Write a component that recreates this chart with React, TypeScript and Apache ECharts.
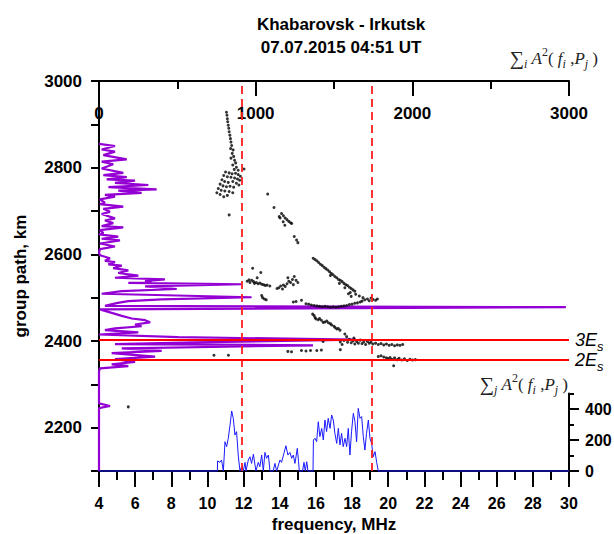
import React, { useEffect, useRef } from 'react';
import * as echarts from 'echarts';

const SANS = '"Liberation Sans", Arial, sans-serif';
const SERIF = '"Liberation Serif", "Times New Roman", serif';

// Ionogram echoes: [frequency MHz, group path km]
const echoes: [number, number][] = [
  // F-layer trace near 11 MHz
  [11.05, 2928], [11.08, 2921], [11.10, 2913], [11.12, 2906], [11.15, 2898], [11.18, 2891], [11.20, 2883],
  [11.24, 2875], [11.27, 2867], [11.30, 2859], [11.34, 2851], [11.28, 2844], [11.42, 2841], [11.37, 2833],
  [11.45, 2826], [11.30, 2822], [11.50, 2817], [11.56, 2811], [11.40, 2806], [11.60, 2801], [11.48, 2796],
  [11.70, 2794], [12.02, 2797],
  [11.00, 2790], [11.20, 2788], [11.36, 2786], [11.55, 2787], [11.70, 2784], [11.82, 2780], [10.90, 2782],
  [11.10, 2779], [11.30, 2778], [11.50, 2776], [11.66, 2774], [11.78, 2771], [10.80, 2772], [10.95, 2768],
  [11.15, 2766], [11.40, 2768], [11.60, 2764], [11.74, 2760], [10.70, 2762], [10.86, 2758], [11.05, 2756],
  [11.25, 2757], [11.45, 2755], [10.60, 2752], [10.76, 2748], [10.96, 2746], [11.20, 2745], [11.40, 2742],
  [10.52, 2742], [10.70, 2738], [10.90, 2733], [11.10, 2736], [11.20, 2691],
  // oblique trace descending with frequency
  [13.33, 2739], [13.68, 2708], [13.97, 2687], [14.02, 2684], [14.10, 2694], [14.20, 2689], [14.30, 2684],
  [14.40, 2680], [14.50, 2676], [14.60, 2673], [14.66, 2671], [14.19, 2675], [14.28, 2667], [14.80, 2641],
  [14.93, 2633], [15.00, 2627],
  [15.85, 2591], [15.95, 2588], [16.05, 2585], [16.15, 2581], [16.25, 2577], [16.35, 2574], [16.45, 2570],
  [16.55, 2567], [16.65, 2564], [16.75, 2560], [16.85, 2556], [16.95, 2553], [16.80, 2551], [17.05, 2549],
  [17.15, 2546], [17.25, 2542], [17.35, 2540], [17.45, 2537], [17.30, 2533], [17.55, 2533], [17.65, 2530],
  [17.75, 2528], [17.60, 2523], [17.85, 2524], [17.95, 2521], [18.05, 2518], [18.15, 2515], [17.90, 2512],
  [18.20, 2508], [17.95, 2503],
  // traces near 2530 km
  [12.20, 2538], [12.30, 2541], [12.35, 2535], [12.45, 2540], [12.55, 2537], [12.60, 2533], [12.70, 2535],
  [12.80, 2532], [12.90, 2534], [13.00, 2531], [13.10, 2530], [13.20, 2528], [13.30, 2529], [13.45, 2527],
  [12.50, 2568], [12.95, 2558], [12.75, 2546], [13.00, 2505], [13.05, 2500], [13.15, 2497], [13.25, 2495],
  [13.95, 2523], [14.05, 2527], [14.20, 2529], [14.30, 2526], [14.40, 2532], [14.50, 2538], [14.45, 2546],
  [14.60, 2535], [14.70, 2542], [14.80, 2549], [14.90, 2540], [15.00, 2535], [13.85, 2521], [14.15, 2520],
  [14.75, 2530],
  // 4Es trace
  [14.75, 2490], [14.90, 2491], [15.20, 2494], [15.45, 2486], [15.60, 2485], [15.75, 2483], [15.90, 2482],
  [16.05, 2481], [16.20, 2480], [16.35, 2479], [16.50, 2480], [16.65, 2479], [16.80, 2478], [16.95, 2479],
  [17.10, 2478], [17.25, 2479], [17.40, 2480], [17.55, 2481], [17.70, 2482], [17.85, 2484], [18.00, 2485],
  [18.15, 2487], [18.30, 2488], [18.45, 2490], [18.55, 2492], [18.70, 2495], [18.85, 2497], [18.95, 2493],
  [19.05, 2499], [19.15, 2496], [19.30, 2494], [19.40, 2497], [18.60, 2500], [18.40, 2504], [17.80, 2509],
  // short descending trace
  [15.82, 2462], [15.95, 2454], [16.13, 2449], [16.30, 2448], [16.50, 2444], [16.69, 2442], [16.87, 2437],
  [17.06, 2431], [17.24, 2429], [17.33, 2425], [15.90, 2459], [16.00, 2451], [16.20, 2452], [16.40, 2443],
  [16.60, 2446], [16.80, 2440], [17.00, 2434], [17.15, 2428],
  // 3Es trace
  [17.35, 2398], [17.45, 2392], [17.55, 2401], [17.70, 2410], [17.75, 2397], [17.85, 2404], [17.95, 2396],
  [18.05, 2400], [18.15, 2393], [18.25, 2399], [18.35, 2395], [18.45, 2402], [18.55, 2394], [18.65, 2398],
  [18.75, 2392], [18.85, 2399], [18.95, 2395], [19.05, 2397], [19.15, 2393], [19.30, 2395], [19.45, 2392],
  [19.60, 2394], [19.75, 2391], [19.90, 2393], [20.05, 2390], [20.20, 2392], [20.35, 2389], [20.50, 2391],
  [20.65, 2390], [20.80, 2392], [17.60, 2416], [18.10, 2407], [16.40, 2399],
  // 2Es trace
  [19.45, 2364], [19.60, 2366], [19.75, 2363], [19.90, 2361], [20.00, 2359], [20.10, 2362], [20.20, 2358],
  [20.35, 2361], [20.50, 2357], [20.60, 2360], [20.75, 2356], [20.90, 2359], [21.05, 2355], [21.20, 2358],
  [21.35, 2356], [21.50, 2357], [20.30, 2343],
  // isolated echoes
  [14.45, 2376], [14.65, 2375], [15.20, 2378], [15.45, 2377], [15.70, 2378], [16.05, 2378], [16.30, 2379],
  [17.35, 2380], [10.36, 2367], [11.16, 2367], [5.62, 2248],
];

// Sum over frequency of A^2 for each group path: [group path km, amplitude]
const pathProfile: [number, number][] = [
  [2855, 0], [2850, 102], [2842, 17], [2837, 102], [2829, 28], [2819, 177], [2814, 17], [2808, 91],
  [2798, 17], [2788, 155], [2783, 28], [2778, 177], [2773, 49], [2770, 230], [2765, 102], [2760, 315],
  [2755, 60], [2750, 368], [2747, 123], [2742, 272], [2737, 38], [2733, 102], [2727, 6], [2719, 38],
  [2716, 6], [2710, 155], [2705, 28], [2698, 70], [2693, 17], [2683, 102], [2678, 38], [2672, 91],
  [2665, 17], [2662, 155], [2656, 6], [2649, 28], [2646, 0], [2641, 123], [2636, 17], [2632, 134],
  [2625, 6], [2618, 102], [2612, 6], [2604, 0], [2598, 6], [2591, 70], [2585, 38], [2582, 102],
  [2577, 60], [2574, 145], [2568, 91], [2563, 187], [2557, 123], [2551, 251], [2546, 102], [2542, 421],
  [2538, 294], [2535, 336], [2534, 187], [2531, 910], [2526, 294], [2520, 496], [2515, 145], [2509, 17],
  [2501, 974], [2496, 400], [2492, 187], [2488, 120], [2481, 38], [2478, 2980], [2473, 6], [2465, 81],
  [2458, 145], [2452, 209], [2448, 294], [2443, 326], [2438, 230], [2434, 272], [2429, 102], [2425, 38],
  [2420, 251], [2415, 0], [2409, 506], [2403, 1640], [2397, 613], [2393, 102], [2390, 1366], [2383, 145],
  [2377, 400], [2372, 81], [2364, 358], [2358, 102], [2352, 230], [2346, 81], [2342, 187], [2337, 6],
  [2330, 0], [2256, 0], [2250, 70], [2245, 0], [2100, 0],
];

// Sum over group path of A^2 for each frequency: [frequency MHz, amplitude]
const freqProfile: [number, number][] = [
  [4, 0], [10.55, 0], [10.56, 65], [10.69, 56], [10.78, 71], [10.88, 0], [10.97, 189], [11.06, 157],
  [11.15, 210], [11.25, 297], [11.34, 387], [11.43, 340], [11.52, 232], [11.61, 254], [11.71, 92],
  [11.8, 0], [11.89, 28], [11.98, 0], [12.08, 56], [12.13, 0], [12.26, 71], [12.35, 92], [12.44, 49],
  [12.54, 108], [12.63, 39], [12.68, 0], [12.81, 56], [12.9, 28], [13.0, 103], [13.09, 0], [13.18, 120],
  [13.27, 82], [13.37, 103], [13.46, 0], [13.64, 0], [13.73, 49], [13.83, 0], [14.01, 71], [14.1, 56],
  [14.23, 114], [14.34, 163], [14.45, 103], [14.56, 120], [14.66, 82], [14.75, 103], [14.84, 49],
  [14.97, 146], [15.04, 60], [15.08, 0], [15.26, 0], [15.34, 56], [15.41, 0], [15.49, 60], [15.56, 0],
  [15.84, 0], [15.86, 200], [15.95, 211], [16.04, 189], [16.13, 318], [16.22, 222], [16.32, 275],
  [16.41, 200], [16.5, 329], [16.59, 254], [16.68, 340], [16.78, 275], [16.87, 361], [16.96, 329],
  [17.05, 243], [17.15, 178], [17.24, 275], [17.33, 168], [17.42, 243], [17.51, 157], [17.61, 211],
  [17.7, 157], [17.79, 275], [17.88, 103], [17.97, 254], [18.07, 372], [18.16, 318], [18.25, 189],
  [18.34, 404], [18.44, 340], [18.53, 351], [18.62, 222], [18.71, 135], [18.8, 243], [18.9, 329],
  [18.99, 211], [19.08, 178], [19.17, 92], [19.27, 125], [19.36, 56], [19.45, 0], [30, 0],
];

// Frequency limits and sporadic-E group paths
const freqLimits = [11.9, 19.1];
const esLayers: { name: string; sub: string; path: number }[] = [
  { name: '3E', sub: 's', path: 2402 },
  { name: '2E', sub: 's', path: 2357 },
];

const INK = '#222';
const sumRich = {
  s: { fontFamily: SERIF, fontSize: 20, lineHeight: 24, fill: INK },
  sb: { fontFamily: SERIF, fontSize: 12, fontStyle: 'italic', lineHeight: 12, verticalAlign: 'bottom', fill: INK },
  sp: { fontFamily: SERIF, fontSize: 12, lineHeight: 13, verticalAlign: 'top', fill: INK },
  v: { fontFamily: SERIF, fontSize: 17, fontStyle: 'italic', lineHeight: 24, fill: INK },
  p: { fontFamily: SERIF, fontSize: 17, lineHeight: 24, fill: INK },
};

const sumText = (idx: string) =>
  `{s|∑}{sb|${idx}}{v| A}{sp|2}{p|( }{v|f}{sb|i}{p| ,}{v|P}{sb|j}{p| )}`;

const tickFont = { fontFamily: SANS, fontSize: 16, fontWeight: 'bold', color: '#000' };
const tickFontLarge = { ...tickFont, fontSize: 17 };
const axisLine = { show: true, onZero: false, lineStyle: { color: '#000', width: 2 } };

export default function App() {
  const ref = useRef<HTMLDivElement>(null);

  useEffect(() => {
    if (!ref.current) return;
    const chart = echarts.init(ref.current, null, { renderer: 'svg' });

    const option: any = {
      animation: false,
      backgroundColor: '#fff',
      title: {
        text: 'Khabarovsk - Irkutsk\n07.07.2015 04:51 UT',
        left: 336,
        top: 8,
        textAlign: 'center',
        textStyle: { fontFamily: SANS, fontSize: 17, fontWeight: 'bold', lineHeight: 23, color: '#000' },
      },
      grid: [
        { left: 99, top: 81, width: 470, height: 390, outerBoundsMode: 'none' },
        { left: 99, top: 393.5, width: 470, height: 77.5, outerBoundsMode: 'none' },
        { left: 99, top: 409, width: 470, height: 62, outerBoundsMode: 'none' },
      ],
      xAxis: [
        {
          gridIndex: 0, type: 'value', position: 'bottom', min: 4, max: 30, interval: 2,
          axisLine,
          axisTick: { show: true, length: 16, lineStyle: { color: '#000', width: 2 } },
          minorTick: { show: true, splitNumber: 2, length: 9, lineStyle: { color: '#000', width: 2 } },
          axisLabel: { ...tickFont, margin: 24 },
          splitLine: { show: false },
          name: 'frequency, MHz', nameLocation: 'middle', nameGap: 42,
          nameTextStyle: { fontFamily: SANS, fontSize: 17, fontWeight: 'bold', color: '#000' },
        },
        {
          gridIndex: 0, type: 'value', position: 'top', min: 0, max: 3000, interval: 1000,
          axisLine,
          axisTick: { show: true, inside: true, length: 15, lineStyle: { color: '#000', width: 2 } },
          minorTick: { show: true, splitNumber: 2, length: 8, lineStyle: { color: '#000', width: 2 } },
          axisLabel: { ...tickFontLarge, inside: true, margin: 24, formatter: (v: number) => String(v) },
          splitLine: { show: false },
        },
        { gridIndex: 1, type: 'value', min: 4, max: 30, show: false },
        { gridIndex: 2, type: 'value', min: 4, max: 30, show: false },
      ],
      yAxis: [
        {
          gridIndex: 0, type: 'value', position: 'left', min: 2100, max: 3000, interval: 100,
          axisLine,
          axisTick: { show: true, length: 8, lineStyle: { color: '#000', width: 2 } },
          axisLabel: {
            ...tickFontLarge,
            margin: 17,
            formatter: (v: number) => (v % 200 === 0 ? String(v) : ''),
          },
          splitLine: { show: false },
          name: 'group path, km', nameLocation: 'middle', nameGap: 70, nameRotate: 90,
          nameTextStyle: { fontFamily: SANS, fontSize: 17, fontWeight: 'bold', color: '#000' },
        },
        {
          gridIndex: 1, type: 'value', position: 'right', min: 0, max: 500, interval: 100,
          axisLine,
          axisTick: { show: true, length: 5, lineStyle: { color: '#000', width: 2 } },
          axisLabel: { show: false },
          splitLine: { show: false },
        },
        {
          gridIndex: 2, type: 'value', position: 'right', min: 0, max: 400, interval: 200,
          axisLine: { show: false },
          axisTick: { show: true, length: 10, lineStyle: { color: '#000', width: 2 } },
          axisLabel: { ...tickFont, margin: 16 },
          splitLine: { show: false },
        },
      ],
      series: [
        {
          type: 'line',
          xAxisIndex: 1,
          yAxisIndex: 0,
          data: pathProfile.map(([p, a]) => [a, p]),
          showSymbol: false,
          lineStyle: { color: '#9400d3', width: 2.2 },
          z: 2,
        },
        {
          type: 'line',
          xAxisIndex: 2,
          yAxisIndex: 1,
          data: freqProfile,
          showSymbol: false,
          lineStyle: { color: '#1a1aff', width: 1 },
          clip: false,
          z: 3,
        },
        {
          type: 'scatter',
          xAxisIndex: 0,
          yAxisIndex: 0,
          data: echoes,
          symbol: 'circle',
          symbolSize: 3,
          itemStyle: { color: '#000' },
          z: 4,
          markLine: {
            silent: true,
            symbol: ['none', 'none'],
            data: [
              ...freqLimits.map((f) => ({
                xAxis: f,
                lineStyle: { color: '#ff2020', width: 1.8, type: [8, 5] },
                label: { show: false },
              })),
              ...esLayers.map((e) => ({
                yAxis: e.path,
                lineStyle: { color: '#ff0000', width: 2, type: 'solid' },
                label: {
                  show: true,
                  position: 'end',
                  distance: 6,
                  formatter: `{a|${e.name}}{b|${e.sub}}`,
                  rich: {
                    a: { fontFamily: SANS, fontSize: 18, fontStyle: 'italic', lineHeight: 26, color: '#000' },
                    b: { fontFamily: SANS, fontSize: 13, fontStyle: 'italic', lineHeight: 12, verticalAlign: 'bottom', color: '#000' },
                  },
                },
              })),
            ],
          },
        },
      ],
      graphic: [
        {
          type: 'text',
          x: 598,
          y: 58,
          style: { text: sumText('i'), align: 'right', verticalAlign: 'middle', rich: sumRich },
        },
        {
          type: 'text',
          x: 568,
          y: 384,
          style: { text: sumText('j'), align: 'right', verticalAlign: 'middle', rich: sumRich },
        },
      ],
    };

    chart.setOption(option);
    return () => chart.dispose();
  }, []);

  return (
    <div
      ref={ref}
      style={{ position: 'absolute', left: 0, top: 0, width: 614, height: 534 }}
    />
  );
}
